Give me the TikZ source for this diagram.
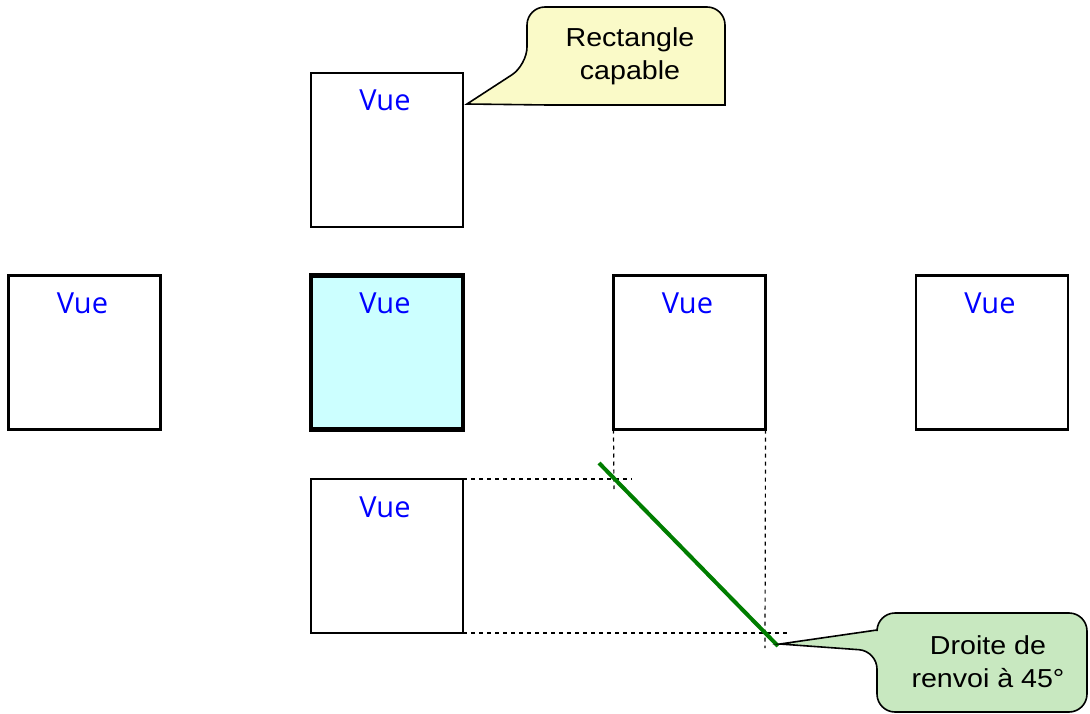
\documentclass[tikz,border=0pt]{standalone}
\usepackage{fontspec}
\setmainfont{Liberation Sans}[FakeStretch=1.1]
\newfontfamily\vuefont{Open Sans}
\definecolor{vueblue}{RGB}{0,0,255}
\definecolor{cyanfill}{RGB}{204,255,255}
\definecolor{yelfill}{RGB}{250,250,200}
\definecolor{grnfill}{RGB}{200,232,192}
\definecolor{grnline}{RGB}{0,125,0}
\tikzset{
  viewbox/.style={draw=black, line width=2.8pt, minimum width=152pt, minimum height=154pt, inner sep=0pt, outer sep=0pt, fill=white},
  mainbox/.style={viewbox, line width=4.5pt, fill=cyanfill},
  vuetext/.style={text=vueblue, font=\vuefont\fontsize{29}{30}\selectfont, anchor=base, inner sep=0pt},
  guide/.style={draw=black, line width=1.2pt, dash pattern=on 4pt off 4pt},
  callout/.style={draw=black, line width=1.6pt},
  calltext/.style={font=\fontsize{26}{33}\selectfont, align=center, inner sep=0pt}
}
\begin{document}
\begin{tikzpicture}[x=1pt,y=-1pt]
\useasboundingbox (0,0) rectangle (1090,714);
% boxes
\node[viewbox] (top) at (387,150) {};
\node[viewbox] (left) at (84.5,352.5) {};
\node[mainbox] (center) at (387,352.5) {};
\node[viewbox] (right) at (689.5,352.5) {};
\node[viewbox] (far) at (992,352.5) {};
\node[viewbox] (bot) at (387,556) {};
% labels
\foreach \b in {top,left,center,right,far,bot}
  \node[vuetext] (v\b) at ([xshift=-2pt,yshift=-38pt]\b.north) {Vue};
% guides
\coordinate (g1) at (614,489);
\coordinate (g2) at (765,648);
\coordinate (g3) at (632,479);
\coordinate (g4) at (787,633);
\draw[guide] (right.south west) -- (g1);
\draw[guide] (right.south east) -- (g2);
\draw[guide] (bot.north east) -- (g3);
\draw[guide] (bot.south east) -- (g4);
% 45 degree line
\coordinate (d1) at (599,463);
\coordinate (d2) at (778,646);
\draw[grnline, line width=4pt] (d1) -- (d2);
% callout 1
\coordinate (tip1) at (467,104);
\draw[callout, fill=yelfill] (620,7) [rounded corners=18pt] -- (527,7) -- (527,65) [sharp corners] -- (tip1) -- (548,105) -- (725,105) [rounded corners=18pt] -- (725,7) -- cycle;
\node[calltext] (c1) at (630,56) {Rectangle\\capable};
% callout 2
\coordinate (tip2) at (780,644);
\draw[callout, fill=grnfill] (980,712) [rounded corners=18pt] -- (877,712) -- (877,651) [sharp corners] -- (tip2) -- (877,630) [rounded corners=18pt] -- (877,613) -- (1087,613) -- (1087,712) -- cycle;
\node[calltext] (c2) at (988,662) {Droite de\\renvoi à 45°};
\end{tikzpicture}
\end{document}
